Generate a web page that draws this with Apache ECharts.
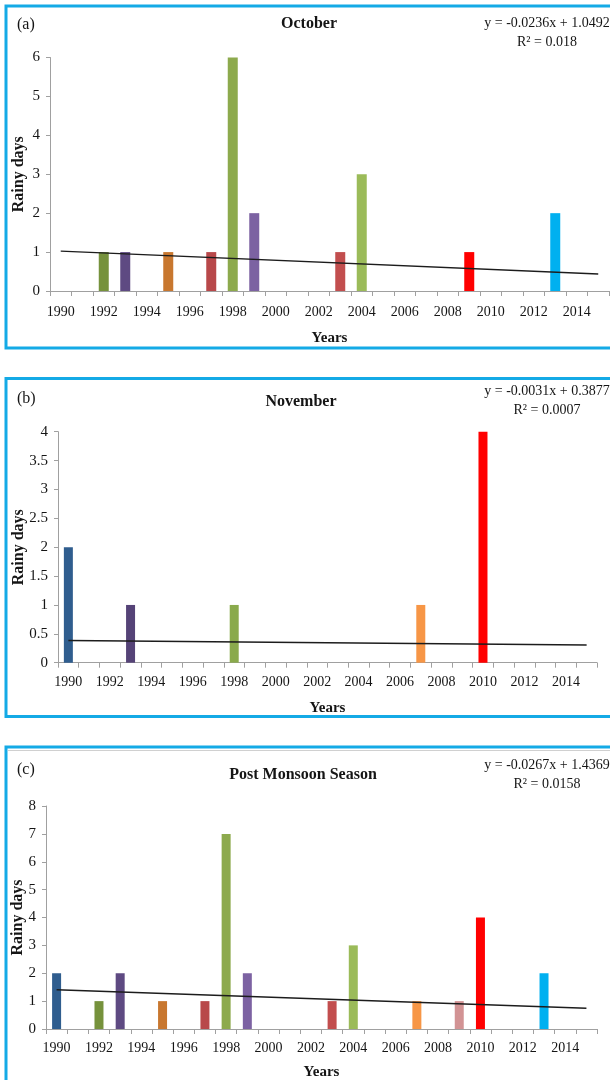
<!DOCTYPE html>
<html>
<head>
<meta charset="utf-8">
<script src="https://cdn.jsdelivr.net/npm/echarts@6/dist/echarts.min.js"></script>
<style>
  html, body { margin: 0; padding: 0; background: #ffffff; }
  #chart { width: 610px; height: 1080px; }
</style>
</head>
<body>
<div id="chart"></div>
<script>
// Years on the category axis
const years = ['1990','1991','1992','1993','1994','1995','1996','1997','1998','1999',
               '2000','2001','2002','2003','2004','2005','2006','2007','2008','2009',
               '2010','2011','2012','2013','2014','2015'];

// Rainy days per year
const octoberDays   = [0,0,1,1,0,1,0,1,6,2,0,0,0,1,3,0,0,0,0,1,0,0,0,2,0,0];
const novemberDays  = [2,0,0,1,0,0,0,0,1,0,0,0,0,0,0,0,0,1,0,0,4,0,0,0,0,0];
const postMonsoonDays = [2,0,1,2,0,1,0,1,7,2,0,0,0,1,3,0,0,1,0,1,4,0,0,2,0,0];

// Linear trend (x = 1 for 1990) as printed on each panel
const panelTitles = ['October', 'November', 'Post Monsoon Season'];
const panelTags   = ['(a)', '(b)', '(c)'];
const trendSlope     = ['-0.0236', '-0.0031', '-0.0267'];
const trendIntercept = ['1.0492', '0.3877', '1.4369'];
const trendR2        = ['0.018', '0.0007', '0.0158'];

// Y-axis ranges
const yMax      = [6, 4, 8];
const yInterval = [1, 0.5, 1];

// Bar colours by year
const octoberColors = {
  '1992': '#76923C', '1993': '#5E4A82', '1995': '#C8772F', '1997': '#B8484A',
  '1998': '#8DAA4D', '1999': '#7C62A2', '2003': '#C24E4E', '2004': '#9BBB59',
  '2009': '#FF0000', '2013': '#00B0F0'
};
const novemberColors = {
  '1990': '#2F5D8E', '1993': '#554377', '1998': '#8AAA4C', '2007': '#F79646',
  '2010': '#FF0000'
};
const postMonsoonColors = {
  '1990': '#2F5D8E', '1992': '#76923C', '1993': '#5E4A82', '1995': '#C8772F',
  '1997': '#B8484A', '1998': '#8DAA4D', '1999': '#7C62A2', '2003': '#C24E4E',
  '2004': '#9BBB59', '2007': '#F79646', '2009': '#D29394', '2010': '#FF0000',
  '2013': '#00B0F0'
};

const panelValues = [octoberDays, novemberDays, postMonsoonDays];
const panelColors = [octoberColors, novemberColors, postMonsoonColors];

// Layout of each panel
const layout = [
  { grid: { left: 50, top: 57.5, width: 559, height: 233.5 }, box: [6, 6, 610, 342],
    barWidth: 10, title: [309, 24], tag: 25, eq: 23.5, names: { yx: 18.5, xy: 338 }, xMargin: 14 },
  { grid: { left: 58, top: 431.7, width: 539, height: 231 }, box: [6, 378.5, 610, 338],
    barWidth: 9, title: [301, 401.5], tag: 399, eq: 391.5, names: { yx: 18.5, xy: 708 }, xMargin: 13 },
  { grid: { left: 46, top: 806, width: 551, height: 223 }, box: [6, 747, 610, 400],
    barWidth: 9, title: [303, 775], tag: 770, eq: 765, names: { yx: 18, xy: 1072 }, xMargin: 12 }
];

const SERIF = '"Liberation Serif", "Times New Roman", serif';
const axisGray = '#a0a0a0';
const ink = '#151515';

const grids = [], xAxes = [], yAxes = [], series = [], graphics = [];

layout.forEach((p, i) => {
  grids.push(Object.assign({ outerBoundsMode: 'none', containLabel: false }, p.grid));

  xAxes.push({
    type: 'category', gridIndex: i, data: years, boundaryGap: true,
    axisLine: { lineStyle: { color: axisGray, width: 1 } },
    axisTick: { show: true, interval: 0, length: 5, lineStyle: { color: axisGray } },
    axisLabel: { interval: 1, color: ink, fontFamily: SERIF, fontSize: 14, margin: p.xMargin },
    splitLine: { show: false }
  });

  yAxes.push({
    type: 'value', gridIndex: i, min: 0, max: yMax[i], interval: yInterval[i],
    axisLine: { show: true, lineStyle: { color: axisGray, width: 1 } },
    axisTick: { show: true, length: 4, lineStyle: { color: axisGray } },
    axisLabel: { color: ink, fontFamily: SERIF, fontSize: 15, margin: 10 },
    splitLine: { show: false }
  });

  const colors = panelColors[i];
  series.push({
    type: 'bar', xAxisIndex: i, yAxisIndex: i, barWidth: p.barWidth,
    data: panelValues[i].map((v, k) => ({
      value: v, itemStyle: { color: colors[years[k]] || '#888888' }
    })),
    silent: true, animation: false, z: 2
  });

  // Trend line endpoints from the printed equation (x = 1 .. 26)
  const slope = parseFloat(trendSlope[i]);
  const icpt = parseFloat(trendIntercept[i]);
  const trend = years.map(() => null);
  trend[0] = icpt + slope * 1;
  trend[years.length - 1] = icpt + slope * years.length;
  series.push({
    type: 'line', xAxisIndex: i, yAxisIndex: i, data: trend, connectNulls: true,
    symbol: 'none', lineStyle: { color: '#1c1c1c', width: 1.4 },
    silent: true, animation: false, z: 3
  });

  // Panel frame
  const [bx, by, bw, bh] = p.box;
  graphics.push({
    type: 'rect', shape: { x: bx, y: by, width: bw, height: bh },
    style: { fill: 'none', stroke: '#14AAE6', lineWidth: 3 }, silent: true, z: 10
  });

  // Panel tag
  graphics.push({
    type: 'text', x: 17, y: p.tag,
    style: { text: panelTags[i], font: '16px ' + SERIF, fill: ink, align: 'left', verticalAlign: 'middle' }
  });

  // Title
  graphics.push({
    type: 'text', x: p.title[0], y: p.title[1],
    style: { text: panelTitles[i], font: 'bold 16px ' + SERIF, fill: ink, align: 'center', verticalAlign: 'middle' }
  });

  // Trend equation
  graphics.push({
    type: 'text', x: 547, y: p.eq,
    style: { text: 'y = ' + trendSlope[i] + 'x + ' + trendIntercept[i], font: '14px ' + SERIF,
             fill: ink, align: 'center', verticalAlign: 'middle' }
  });
  graphics.push({
    type: 'text', x: 547, y: p.eq + 19,
    style: { text: 'R\u00B2 = ' + trendR2[i], font: '14px ' + SERIF,
             fill: ink, align: 'center', verticalAlign: 'middle' }
  });

  // Axis names
  const cx = p.grid.left + p.grid.width / 2;
  graphics.push({
    type: 'text', x: p.names.yx, y: p.grid.top + p.grid.height / 2, rotation: Math.PI / 2,
    style: { text: 'Rainy days', font: 'bold 16px ' + SERIF, fill: ink, align: 'center', verticalAlign: 'middle' }
  });
  graphics.push({
    type: 'text', x: cx, y: p.names.xy,
    style: { text: 'Years', font: 'bold 15px ' + SERIF, fill: ink, align: 'center', verticalAlign: 'middle' }
  });
});

// thin grey rule under the top edge of the last frame
graphics.push({
  type: 'line', shape: { x1: 8, y1: 750.5, x2: 610, y2: 750.5 },
  style: { stroke: '#d0d0d0', lineWidth: 1 }, silent: true
});

const chart = echarts.init(document.getElementById('chart'), null, { renderer: 'canvas' });
chart.setOption({
  backgroundColor: '#ffffff',
  animation: false,
  grid: grids,
  xAxis: xAxes,
  yAxis: yAxes,
  series: series,
  graphic: graphics
});
</script>
</body>
</html>
